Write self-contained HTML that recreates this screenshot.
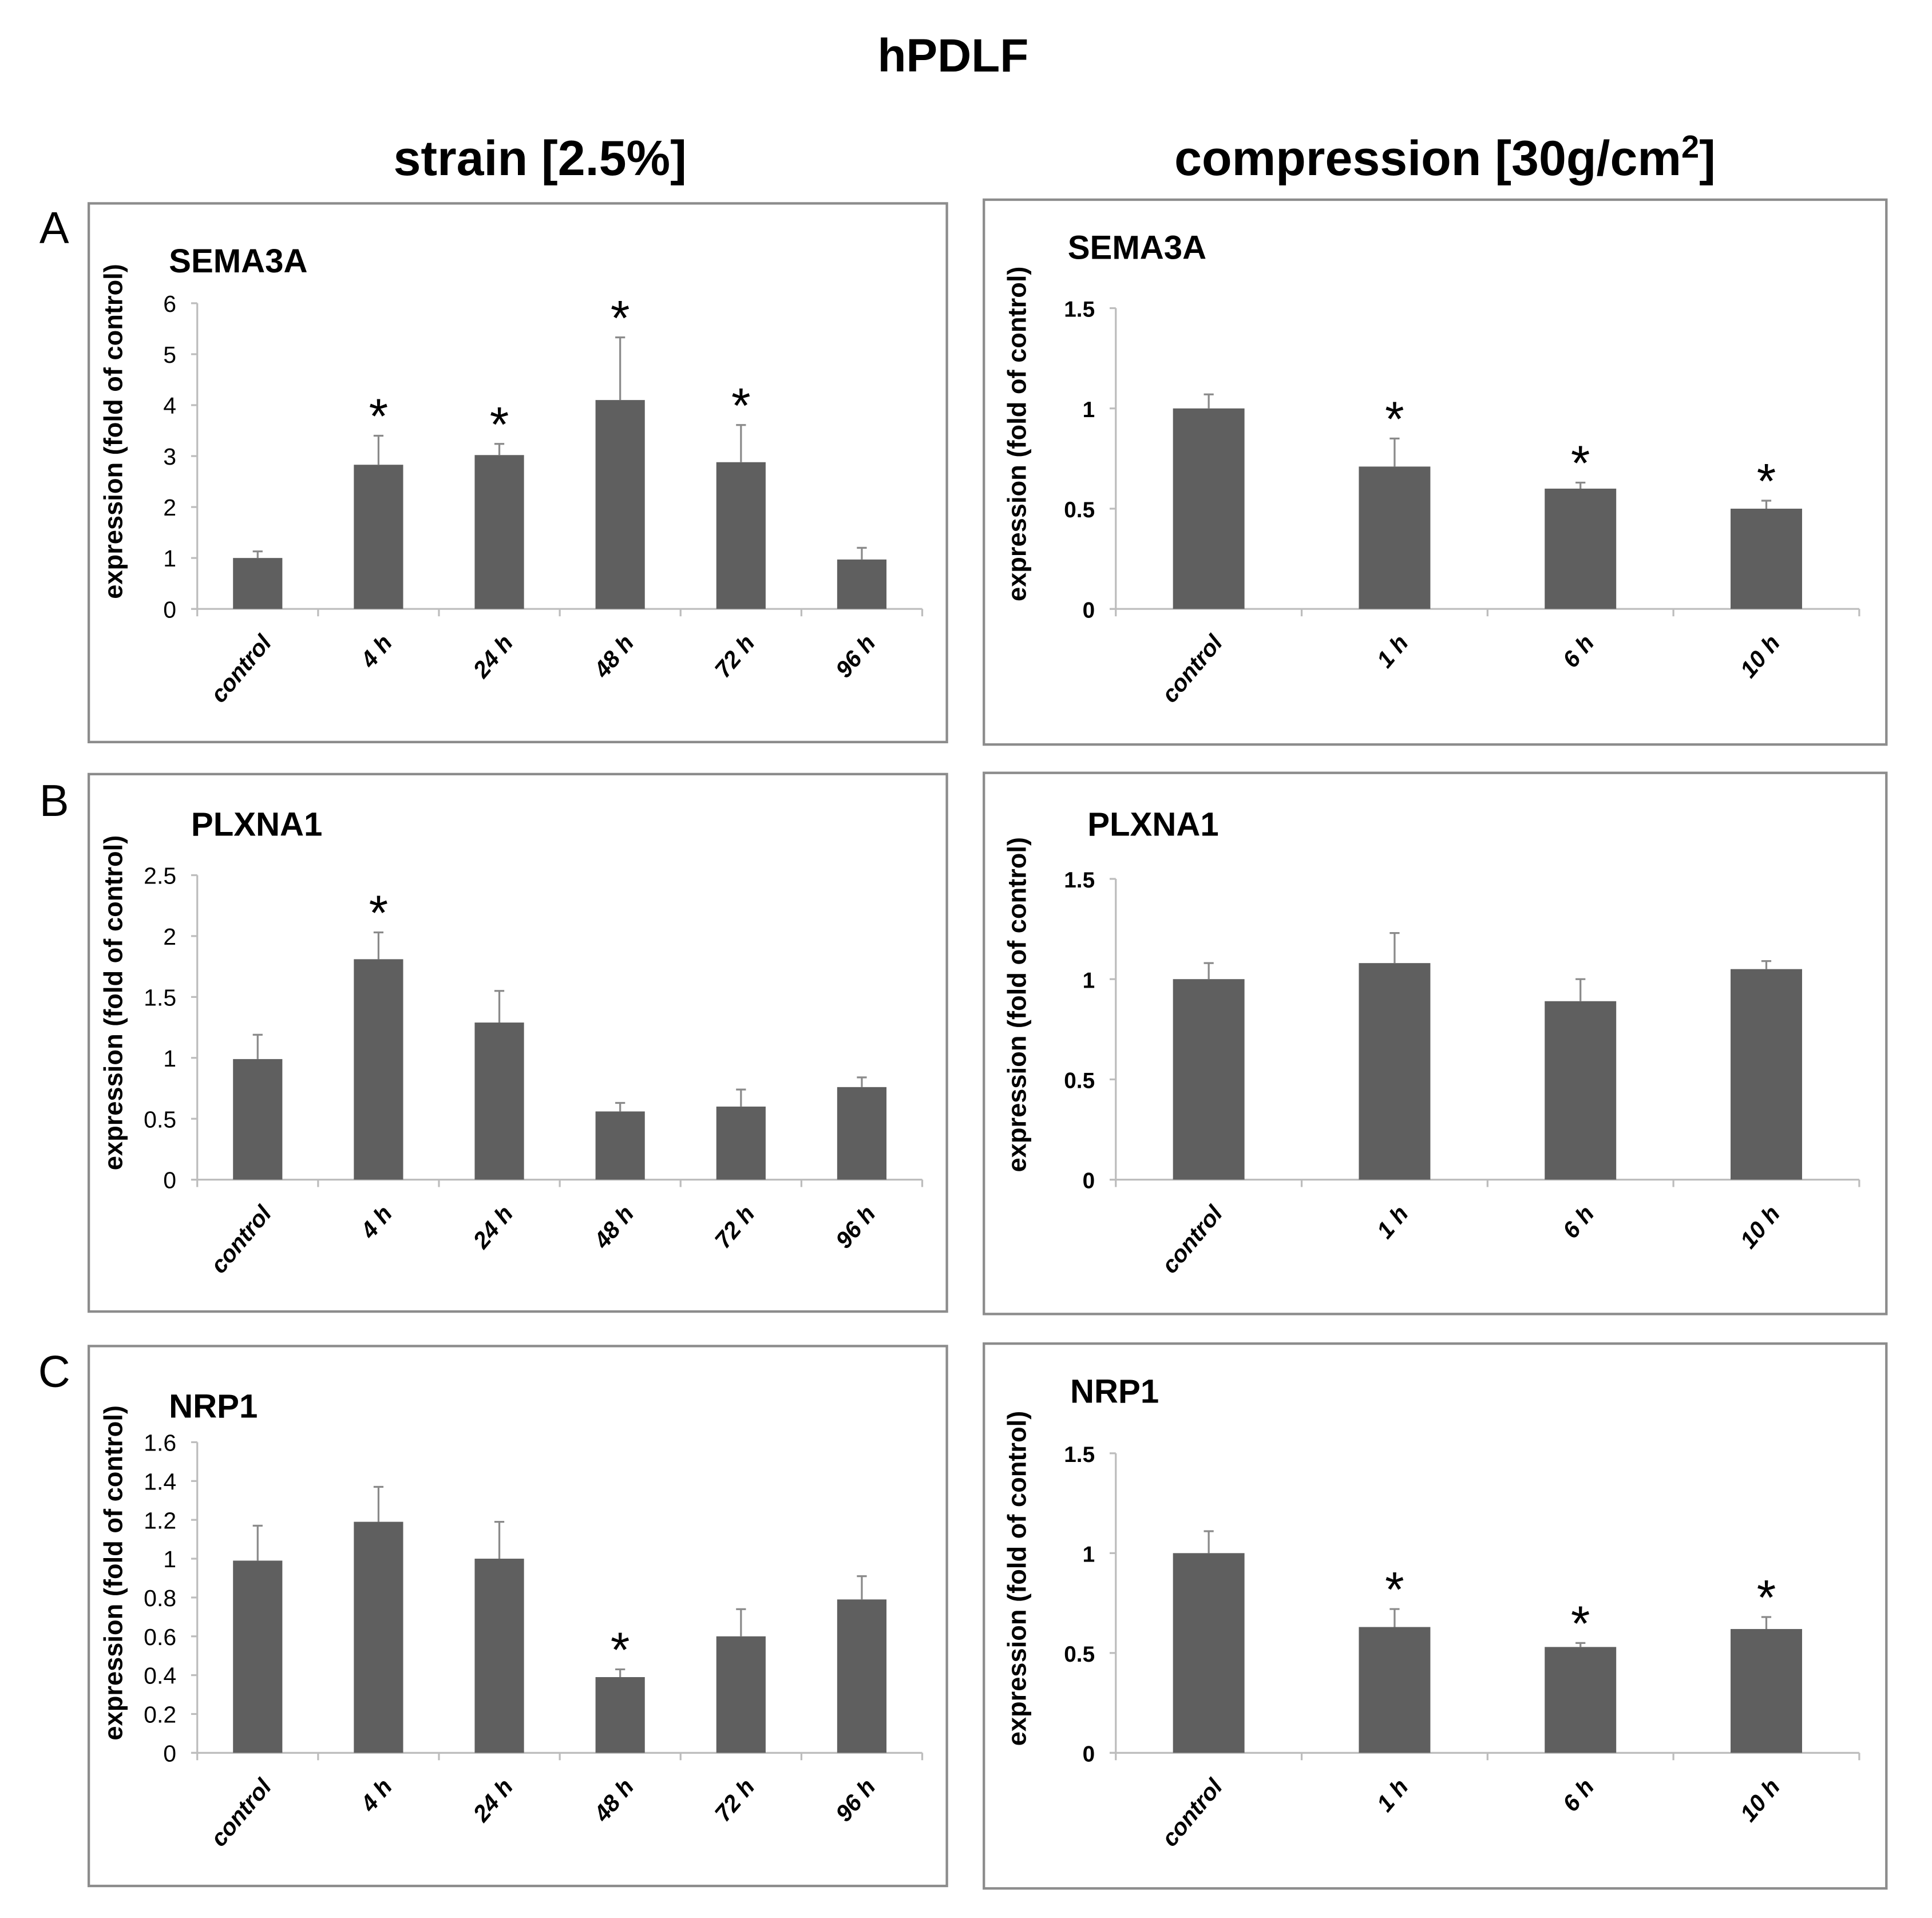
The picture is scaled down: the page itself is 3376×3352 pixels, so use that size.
<!DOCTYPE html>
<html><head><meta charset="utf-8"><style>
html,body{margin:0;padding:0;background:#fff}
svg{display:block}
text{font-family:"Liberation Sans",sans-serif}
</style></head><body>
<svg id="fig" width="3376" height="3352" viewBox="0 0 1567 1556" preserveAspectRatio="none" xmlns="http://www.w3.org/2000/svg">
<text x="773" y="58" text-anchor="middle" font-size="38" font-weight="bold">hPDLF</text>
<text x="438" y="142" text-anchor="middle" font-size="40" font-weight="bold">strain [2.5%]</text>
<text x="1172" y="142" text-anchor="middle" font-size="40" font-weight="bold">compression [30g/cm<tspan font-size="26" dy="-14">2</tspan><tspan dy="14">]</tspan></text>
<text x="44" y="197" text-anchor="middle" font-size="36">A</text>
<text x="44" y="662" text-anchor="middle" font-size="36">B</text>
<text x="44" y="1125" text-anchor="middle" font-size="36">C</text>
</svg>
<script>
const strainCats = ["control","4 h","24 h","48 h","72 h","96 h"];
const compCats = ["control","1 h","6 h","10 h"];
const semaStrainVals = [1.0, 2.83, 3.02, 4.1, 2.88, 0.97];
const semaStrainErr = [0.13, 0.57, 0.22, 1.23, 0.73, 0.23];
const semaStrainSig = [0,1,1,1,1,0];
const semaStrainTicks = [0,1,2,3,4,5,6];
const semaCompVals = [1.0, 0.71, 0.6, 0.5];
const semaCompErr = [0.07, 0.14, 0.03, 0.04];
const semaCompSig = [0,1,1,1];
const semaCompTicks = [0,0.5,1,1.5];
const plxStrainVals = [0.99, 1.81, 1.29, 0.56, 0.6, 0.76];
const plxStrainErr = [0.2, 0.22, 0.26, 0.07, 0.14, 0.08];
const plxStrainSig = [0,1,0,0,0,0];
const plxStrainTicks = [0,0.5,1,1.5,2,2.5];
const plxCompVals = [1.0, 1.08, 0.89, 1.05];
const plxCompErr = [0.08, 0.15, 0.11, 0.04];
const plxCompSig = [0,0,0,0];
const plxCompTicks = [0,0.5,1,1.5];
const nrpStrainVals = [0.99, 1.19, 1.0, 0.39, 0.6, 0.79];
const nrpStrainErr = [0.18, 0.18, 0.19, 0.04, 0.14, 0.12];
const nrpStrainSig = [0,0,0,1,0,0];
const nrpStrainTicks = [0,0.2,0.4,0.6,0.8,1,1.2,1.4,1.6];
const nrpCompVals = [1.0, 0.63, 0.53, 0.62];
const nrpCompErr = [0.11, 0.09, 0.02, 0.06];
const nrpCompSig = [0,1,1,1];
const nrpCompTicks = [0,0.5,1,1.5];

const NS="http://www.w3.org/2000/svg";
const svg=document.getElementById('fig');
function mk(tag,attrs,parent){const e=document.createElementNS(NS,tag);for(const k in attrs)e.setAttribute(k,attrs[k]);(parent||svg).appendChild(e);return e;}

function panel(p){
  const g=mk('g',{});
  
  
  const box=mk('rect',{x:p.bx,y:p.by,width:p.bw,height:p.bh,fill:'#fff',stroke:'#8c8c8c','stroke-width':2},g);
  
  
  const t=mk('text',{x:p.tx,y:p.ty,'font-size':27,'font-weight':'bold'},g);
  t.textContent=p.title;
  
  
  const maxT=p.ticks[p.ticks.length-1];
  const yS=v=>p.y0-(v/maxT)*(p.y0-p.yTop);
  const n=p.cats.length;
  const step=(p.x1-p.x0)/n;
  const xS=i=>p.x0+step*(i+0.5);
  const ya=mk('line',{x1:p.x0,y1:p.yTop,x2:p.x0,y2:p.y0,stroke:'#bdbdbd','stroke-width':1.5},g);
  
  
  p.ticks.forEach(v=>{
    mk('line',{x1:p.x0-5,y1:yS(v),x2:p.x0,y2:yS(v),stroke:'#bdbdbd','stroke-width':1.5},g);
    const tl=mk('text',{x:p.x0-17,y:yS(v)+7,'text-anchor':'end','font-size':p.boldTicks?18:19,'font-weight':p.boldTicks?'bold':'normal'},g);
    tl.textContent=String(v);
    
    
  });
  const xa=mk('line',{x1:p.x0-5,y1:p.y0,x2:p.x1,y2:p.y0,stroke:'#bdbdbd','stroke-width':1.5},g);
  
  
  for(let i=0;i<=n;i++) mk('line',{x1:p.x0+step*i,y1:p.y0,x2:p.x0+step*i,y2:p.y0+6,stroke:'#bdbdbd','stroke-width':1.5},g);
  const yt=mk('text',{x:0,y:0,'text-anchor':'middle','font-size':21,'font-weight':'bold',transform:`translate(${p.ytx},${(p.y0+p.yTop)/2-20}) rotate(-90)`},g);
  yt.textContent='expression (fold of control)';
  
  
  p.vals.forEach((v,i)=>{
    const cx=xS(i);
    const r=mk('rect',{x:cx-p.bwid/2,y:yS(v),width:p.bwid,height:p.y0-yS(v),fill:'#5f5f5f'},g);
    
    
    const top=yS(v+p.err[i]);
    const eb=mk('path',{d:`M${cx},${yS(v)}V${top}M${cx-4},${top}H${cx+4}`,stroke:'#8a8a8a','stroke-width':1.5,fill:'none'},g);
    
    
    if(p.sig[i]){
      const s=mk('text',{x:cx,y:top-2,'text-anchor':'middle','font-size':40},g);
      s.textContent='*';
      
      
    }
    const xl=mk('text',{x:0,y:0,'text-anchor':'end','font-size':19,'font-weight':'bold','font-style':'italic',transform:`translate(${cx+12},${p.y0+28}) rotate(-50)`},g);
    xl.textContent=p.cats[i];
    
    
  });
}
const L={bx:72,bw:696,x0:160,x1:748,bwid:40,ytx:99};
const R={bx:798,bw:732,x0:905,x1:1508,bwid:58,ytx:832,boldTicks:true};
panel(Object.assign({},L,{name:'sema3a-strain-chart',by:165,bh:437,title:'SEMA3A',tx:137,ty:221,y0:494,yTop:246,cats:strainCats,vals:semaStrainVals,err:semaStrainErr,sig:semaStrainSig,ticks:semaStrainTicks}));
panel(Object.assign({},R,{name:'sema3a-compression-chart',by:162,bh:442,title:'SEMA3A',tx:866,ty:210,y0:494,yTop:250,cats:compCats,vals:semaCompVals,err:semaCompErr,sig:semaCompSig,ticks:semaCompTicks}));
panel(Object.assign({},L,{name:'plxna1-strain-chart',by:628,bh:436,title:'PLXNA1',tx:155,ty:678,y0:957,yTop:710,cats:strainCats,vals:plxStrainVals,err:plxStrainErr,sig:plxStrainSig,ticks:plxStrainTicks}));
panel(Object.assign({},R,{name:'plxna1-compression-chart',by:627,bh:439,title:'PLXNA1',tx:882,ty:678,y0:957,yTop:713,cats:compCats,vals:plxCompVals,err:plxCompErr,sig:plxCompSig,ticks:plxCompTicks}));
panel(Object.assign({},L,{name:'nrp1-strain-chart',by:1092,bh:438,title:'NRP1',tx:137,ty:1150,y0:1422,yTop:1170,cats:strainCats,vals:nrpStrainVals,err:nrpStrainErr,sig:nrpStrainSig,ticks:nrpStrainTicks}));
panel(Object.assign({},R,{name:'nrp1-compression-chart',by:1090,bh:442,title:'NRP1',tx:868,ty:1138,y0:1422,yTop:1179,cats:compCats,vals:nrpCompVals,err:nrpCompErr,sig:nrpCompSig,ticks:nrpCompTicks}));
</script>
</body></html>
